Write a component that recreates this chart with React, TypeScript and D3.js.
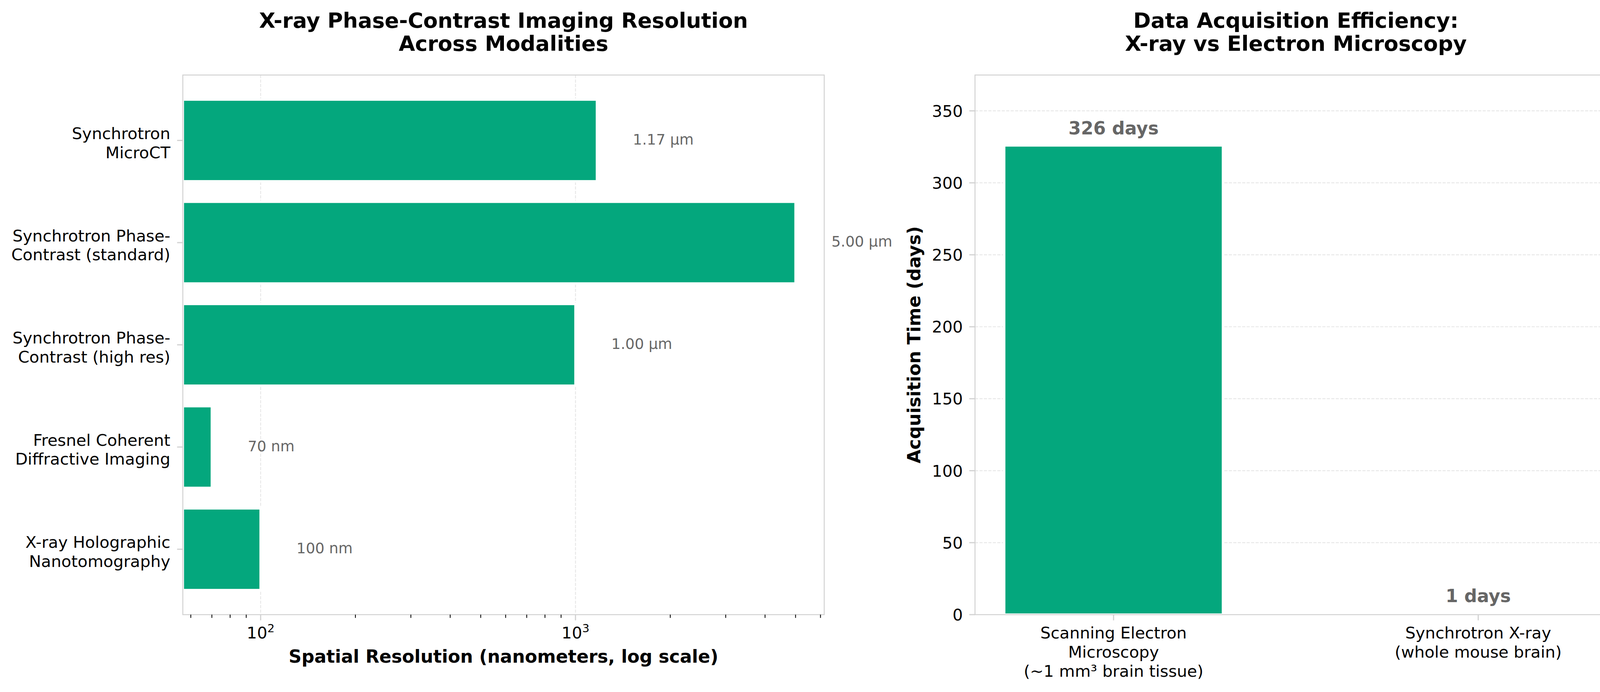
import * as d3 from 'd3';

// left panel: spatial resolution per modality (nanometers)
const modalities = [
  ['Synchrotron', 'MicroCT'],
  ['Synchrotron Phase-', 'Contrast (standard)'],
  ['Synchrotron Phase-', 'Contrast (high res)'],
  ['Fresnel Coherent', 'Diffractive Imaging'],
  ['X-ray Holographic', 'Nanotomography'],
];
const resolutionNm = [1170, 5000, 1000, 70, 100];
const majorExponents = [2, 3];

// right panel: acquisition time (days)
const methods = [
  ['Scanning Electron', 'Microscopy', '(~1 mm³ brain tissue)'],
  ['Synchrotron X-ray', '(whole mouse brain)'],
];
const acquisitionDays = [326, 1];
const dayTicks = [0, 50, 100, 150, 200, 250, 300, 350];

const W = 4170;
const H = 1771;
const FONT = "'DejaVu Sans', sans-serif";
const GREEN = '#04a77d';
const SPINE = '#d2d2d2';
const GRID = '#e6e6e6';
const LABEL_GRAY = '#666666';
const EDGE_W = 6.25;

const L = { x0: 468, x1: 2110, y0: 192, y1: 1573 };
const R = { x0: 2496, x1: 4139, y0: 192, y1: 1573 };

const xLog = d3.scaleLog().domain([56.6, 6166]).range([L.x0, L.x1]);
const yCat = d3.scaleLinear().domain([-0.64, 4.64]).range([L.y0, L.y1]);
const xCat = d3.scaleLinear().domain([-0.38, 1.38]).range([R.x0, R.x1]);
const yDays = d3.scaleLinear().domain([0, 374.9]).range([R.y1, R.y0]);

const fmtRes = (v: number) => (v >= 1000 ? `${(v / 1000).toFixed(2)} µm` : `${v} nm`);

export default function App() {
  const unit = yCat(1) - yCat(0);
  const barH = 0.8 * unit;
  const barW = (xCat(1) - xCat(0)) * 0.6;
  const minorTicks = xLog.ticks().filter(t => !majorExponents.some(e => Math.abs(t - 10 ** e) < 1e-6));

  return (
    <svg
      width={W}
      height={H}
      style={{ position: 'absolute', left: 0, top: 0, background: '#fff' }}
      fontFamily={FONT}
    >
      <rect width={W} height={H} fill="#fff" />

      {/* ---------- left panel ---------- */}
      <g>
        {majorExponents.map(e => (
          <line key={e} x1={xLog(10 ** e)} x2={xLog(10 ** e)} y1={L.y0} y2={L.y1}
            stroke={GRID} strokeWidth={2.2} strokeDasharray="8,3.4" />
        ))}
        {resolutionNm.map((v, i) => (
          <rect key={i} x={L.x0} y={yCat(i) - barH / 2} width={xLog(v) - L.x0} height={barH}
            fill={GREEN} stroke="#fff" strokeWidth={EDGE_W} />
        ))}
        {resolutionNm.map((v, i) => (
          <text key={i} x={xLog(v * 1.3)} y={yCat(i) + 10.5} fontSize={37.5} fill={LABEL_GRAY}>
            {fmtRes(v)}
          </text>
        ))}
        <rect x={L.x0} y={L.y0} width={L.x1 - L.x0} height={L.y1 - L.y0} fill="none" stroke={SPINE} strokeWidth={2.5} />

        {/* y ticks */}
        {modalities.map((lines, i) => (
          <g key={i}>
            <line x1={L.x0 - 14.6} x2={L.x0} y1={yCat(i)} y2={yCat(i)} stroke={SPINE} strokeWidth={3} />
            <text textAnchor="end" fontSize={41.5} fill="#000">
              {lines.map((s, j) => (
                <tspan key={j} x={L.x0 - 32} y={yCat(i) + (j - (lines.length - 1) / 2) * 48.5 + 21}>{s}</tspan>
              ))}
            </text>
          </g>
        ))}

        {/* x ticks */}
        {minorTicks.map(t => (
          <line key={t} x1={xLog(t)} x2={xLog(t)} y1={L.y1} y2={L.y1 + 8.3} stroke="#000" strokeWidth={2.1} />
        ))}
        {majorExponents.map(e => (
          <g key={e}>
            <line x1={xLog(10 ** e)} x2={xLog(10 ** e)} y1={L.y1} y2={L.y1 + 14.6} stroke={SPINE} strokeWidth={3} />
            <text x={xLog(10 ** e)} y={1634} textAnchor="middle" fontSize={41.5} fill="#000">
              <tspan>10</tspan>
              <tspan dy={-16} fontSize={29}>{e}</tspan>
            </text>
          </g>
        ))}

        <text x={(L.x0 + L.x1) / 2} y={1696} textAnchor="middle" fontSize={45.8} fontWeight="bold">
          Spatial Resolution (nanometers, log scale)
        </text>
        <text textAnchor="middle" fontSize={54} fontWeight="bold">
          <tspan x={(L.x0 + L.x1) / 2} y={71}>X-ray Phase-Contrast Imaging Resolution</tspan>
          <tspan x={(L.x0 + L.x1) / 2} y={130}>Across Modalities</tspan>
        </text>
      </g>

      {/* ---------- right panel ---------- */}
      <g>
        {dayTicks.map(t => (
          <line key={t} x1={R.x0} x2={R.x1} y1={yDays(t)} y2={yDays(t)}
            stroke={GRID} strokeWidth={2.2} strokeDasharray="8,3.4" />
        ))}
        {acquisitionDays.map((v, i) => (
          <rect key={i} x={xCat(i) - barW / 2} y={yDays(v)} width={barW} height={yDays(0) - yDays(v)}
            fill={GREEN} stroke="#fff" strokeWidth={EDGE_W} />
        ))}
        {acquisitionDays.map((v, i) => (
          <text key={i} x={xCat(i)} y={yDays(v) - 28} textAnchor="middle" fontSize={45.8} fontWeight="bold" fill={LABEL_GRAY}>
            {`${v} days`}
          </text>
        ))}
        <rect x={R.x0} y={R.y0} width={R.x1 - R.x0} height={R.y1 - R.y0} fill="none" stroke={SPINE} strokeWidth={2.5} />

        {dayTicks.map(t => (
          <g key={t}>
            <line x1={R.x0 - 14.6} x2={R.x0} y1={yDays(t)} y2={yDays(t)} stroke={SPINE} strokeWidth={3} />
            <text x={R.x0 - 31} y={yDays(t) + 15} textAnchor="end" fontSize={41.5} fill="#000">{t}</text>
          </g>
        ))}
        {methods.map((lines, i) => (
          <g key={i}>
            <line x1={xCat(i)} x2={xCat(i)} y1={R.y1} y2={R.y1 + 14.6} stroke={SPINE} strokeWidth={3} />
            <text textAnchor="middle" fontSize={41.5} fill="#000">
              {lines.map((s, j) => (
                <tspan key={j} x={xCat(i)} y={1634 + j * 48.8}>{s}</tspan>
              ))}
            </text>
          </g>
        ))}

        <text transform={`translate(2356, ${(R.y0 + R.y1) / 2}) rotate(-90)`} textAnchor="middle"
          fontSize={45.8} fontWeight="bold">
          Acquisition Time (days)
        </text>
        <text textAnchor="middle" fontSize={54} fontWeight="bold">
          <tspan x={(R.x0 + R.x1) / 2} y={71}>Data Acquisition Efficiency:</tspan>
          <tspan x={(R.x0 + R.x1) / 2} y={130}>X-ray vs Electron Microscopy</tspan>
        </text>
      </g>
    </svg>
  );
}
